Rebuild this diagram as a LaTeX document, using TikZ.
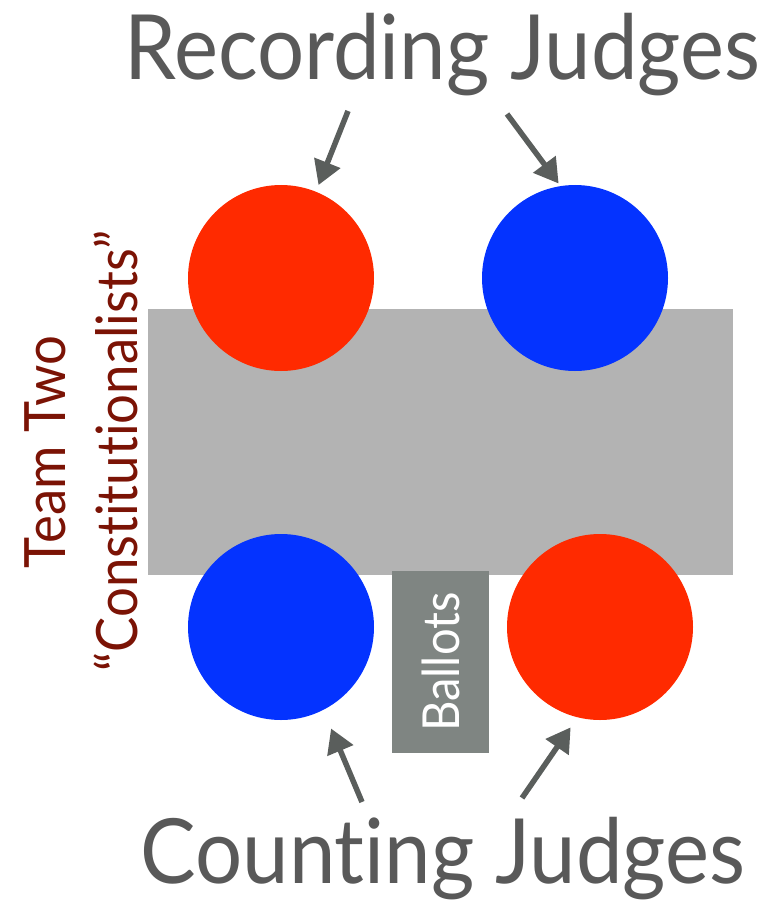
\documentclass[tikz,border=0pt]{standalone}
\usepackage{fontspec}
\setmainfont{Lato}[Ligatures=NoCommon]
\newfontfamily\narrowfont{Lato}[Ligatures=NoCommon,FakeStretch=0.925]
\usetikzlibrary{arrows.meta}

\definecolor{judgered}{HTML}{FF2A00}
\definecolor{judgeblue}{HTML}{0433FF}
\definecolor{tablegray}{HTML}{B3B3B3}
\definecolor{ballotgray}{HTML}{7F8582}
\definecolor{pointergray}{HTML}{5A5E5C}
\definecolor{labelgray}{HTML}{595959}
\definecolor{teamred}{HTML}{7B1305}

\tikzset{
  judge/.style={circle,draw=none,inner sep=0pt,minimum size=2*\rjudge pt},
  pointer/.style={pointergray,line width=5.5pt,-{Triangle[length=24pt,width=27pt]}},
  biglabel/.style={labelgray,anchor=base,inner sep=0pt,font=\narrowfont\fontsize{90}{90}\selectfont},
  teamlabel/.style={teamred,anchor=base,rotate=90,inner sep=0pt,font=\narrowfont\fontsize{57}{57}\selectfont},
}

\begin{document}
\begin{tikzpicture}[x=1pt,y=-1pt]
  \pgfmathsetmacro\rjudge{93}
  \useasboundingbox (0,0) rectangle (768,904);

% table
  \fill[tablegray] (148,309) rectangle (733,575);

% judges round the table
  \node[judge,fill=judgered]  (recleft)  at (281,278) {};
  \node[judge,fill=judgeblue] (recright) at (575,278) {};
  \node[judge,fill=judgeblue] (cntleft)  at (281,627) {};
  \node[judge,fill=judgered]  (cntright) at (600,627) {};

% ballot box
  \node[fill=ballotgray,text=white,rotate=90,minimum width=182pt,minimum height=97pt,
        inner sep=0pt,font=\narrowfont\fontsize{51}{51}\selectfont] (ballots) at (440.5,662) {Ballots};

% labels
  \node[biglabel] (reclabel) at (442.5,80) {Recording Judges};
  \node[biglabel] (cntlabel) at (443,883) {Counting Judges};
  \node[teamlabel] (teamname) at (65,452) {Team Two};
  \node[teamlabel] (teamtype) at (137,451) {“Constitutionalists”};

% pointers
  \coordinate (recleftfrom)  at (348,111);
  \coordinate (recrightfrom) at (507,114);
  \coordinate (cntleftfrom)  at (362,802);
  \coordinate (cntrightfrom) at (522,798);
  \draw[pointer,shorten >=7pt]  (recleftfrom)  -- (recleft.68);
  \draw[pointer,shorten >=3pt]  (recrightfrom) -- (recright.99);
  \draw[pointer,shorten >=20pt] (cntleftfrom)  -- (cntleft.-63);
  \draw[pointer,shorten >=12pt] (cntrightfrom) -- (cntright.-104);

\end{tikzpicture}
\end{document}
